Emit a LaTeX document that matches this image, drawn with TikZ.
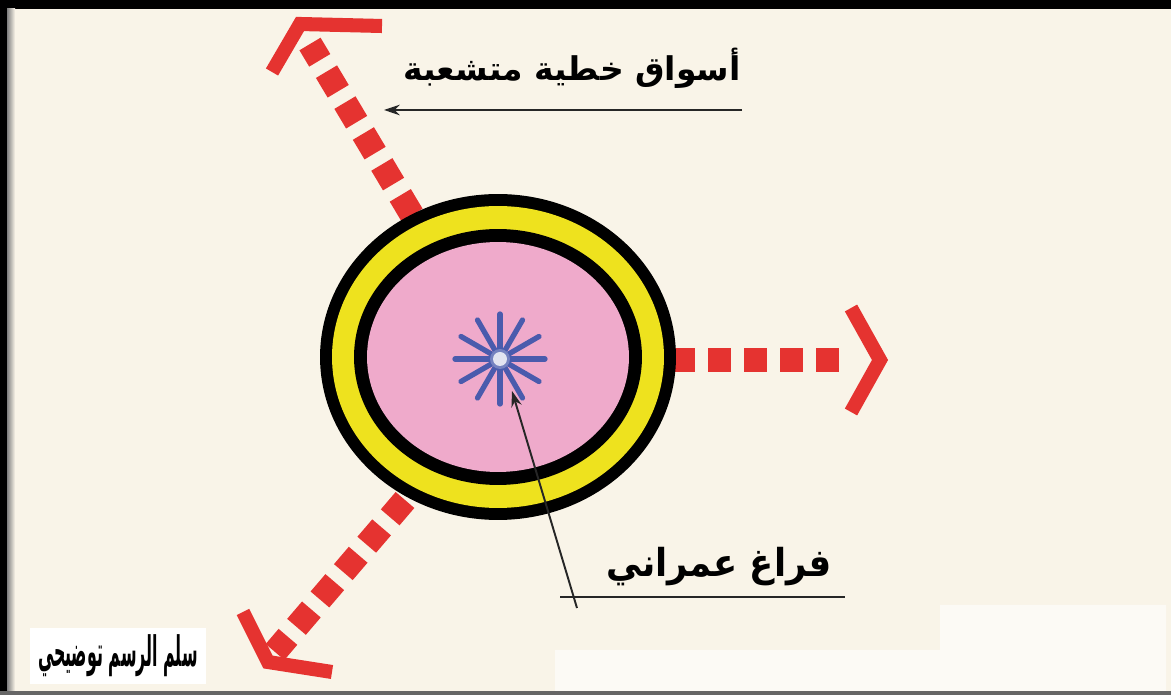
\documentclass[tikz,border=0pt]{standalone}
\usepackage{fontspec}
\usepackage{graphicx}
\usetikzlibrary{arrows.meta}
\TeXXeTstate=1
\newfontfamily\arabicfont[Script=Arabic]{DejaVu Sans}
\definecolor{bg}{HTML}{F9F4E8}
\definecolor{arrred}{HTML}{E53330}
\definecolor{ringyellow}{HTML}{EEE21E}
\definecolor{corepink}{HTML}{EFAACB}
\definecolor{starblue}{HTML}{4A5BAD}
\begin{document}
\begin{tikzpicture}[x=0.02cm,y=-0.02cm,
  dashline/.style={arrred, line width=14pt, dash pattern=on 13pt off 7.5pt},
  chev/.style={arrred, line width=8pt, line join=miter},
  leader/.style={black!85, line width=1.1pt},
  lbl/.style={inner sep=0pt, font=\arabicfont\bfseries},
  spoke/.style={starblue, line width=3pt, line cap=round}]
\fill[bg] (0,0) rectangle (1171,695);
\useasboundingbox (0,0) rectangle (1171,695);
% whitish patch bottom right
\fill[white!55!bg] (555,650) -- (940,650) -- (940,605) -- (1166,605) -- (1166,691) -- (555,691) -- cycle;
% frame
\fill[black] (0,0) rectangle (1171,9);
\fill[black] (0,0) rectangle (7,695);
\shade[left color=gray, right color=bg] (7,9) rectangle (15,691);
\fill[gray!80!black] (0,691) rectangle (1171,695);

% coordinates
\coordinate (c) at (498,357);
\coordinate (star) at (500,359);
\coordinate (ulstart) at (412,215);
\coordinate (ulend) at (310,44);
\coordinate (rstart) at (672,360);
\coordinate (rend) at (850,360);
\coordinate (llstart) at (405,500);
\coordinate (llend) at (275,652);

% dashed red arrows
\draw[dashline] (ulstart) -- (ulend);
\draw[chev] (382,26) -- (300,24) -- (272,72);
\draw[dashline] (rstart) -- (rend);
\draw[chev] (851,308) -- (880,360) -- (851,412);
\draw[dashline] (llstart) -- (llend);
\draw[chev] (243,612) -- (268,662) -- (332,672);

% concentric rings
\fill[black] (c) ellipse [x radius=3.56cm, y radius=3.26cm];
\fill[ringyellow] (c) ellipse [x radius=3.32cm, y radius=3.02cm];
\fill[black] (c) ellipse [x radius=2.88cm, y radius=2.56cm];
\fill[corepink] (c) ellipse [x radius=2.62cm, y radius=2.30cm];

% star
\foreach \a in {0,30,...,330}
  \draw[spoke] (star) ++(\a:8) -- ++(\a:37);
\fill[white] (star) circle [radius=0.14cm];
\fill[white!60!starblue, opacity=0.4] (star) circle [radius=0.2cm];

% labels
\node[lbl] (markets) at (572,68) {\resizebox*{192pt}{23pt}{\beginR أسواق خطية متشعبة\endR}};
\node[lbl] (void) at (719,567) {\resizebox*{128pt}{22pt}{\beginR فراغ عمراني\endR}};
\node[lbl, fill=white, minimum width=3.52cm, minimum height=1.14cm] (scalebox) at (118,656) {};
\node[lbl] (scaletext) at (scalebox.center) {\resizebox*{91pt}{24pt}{\beginR سلم الرسم توضيحي\endR}};

% leaders
\coordinate (mline) at (742,110);
\coordinate (mtip) at (384,110);
\draw[leader, -{Stealth[length=9pt,width=6pt]}] (mline) -- (mtip);
\coordinate (vfoot) at (577,608);
\coordinate (vtip) at (512,391);
\coordinate (vl) at (560,597);
\coordinate (vr) at (845,597);
\draw[leader, -{Stealth[length=9pt,width=6pt]}] (vfoot) -- (vtip);
\draw[leader] (vl) -- (vr);
\end{tikzpicture}
\end{document}
